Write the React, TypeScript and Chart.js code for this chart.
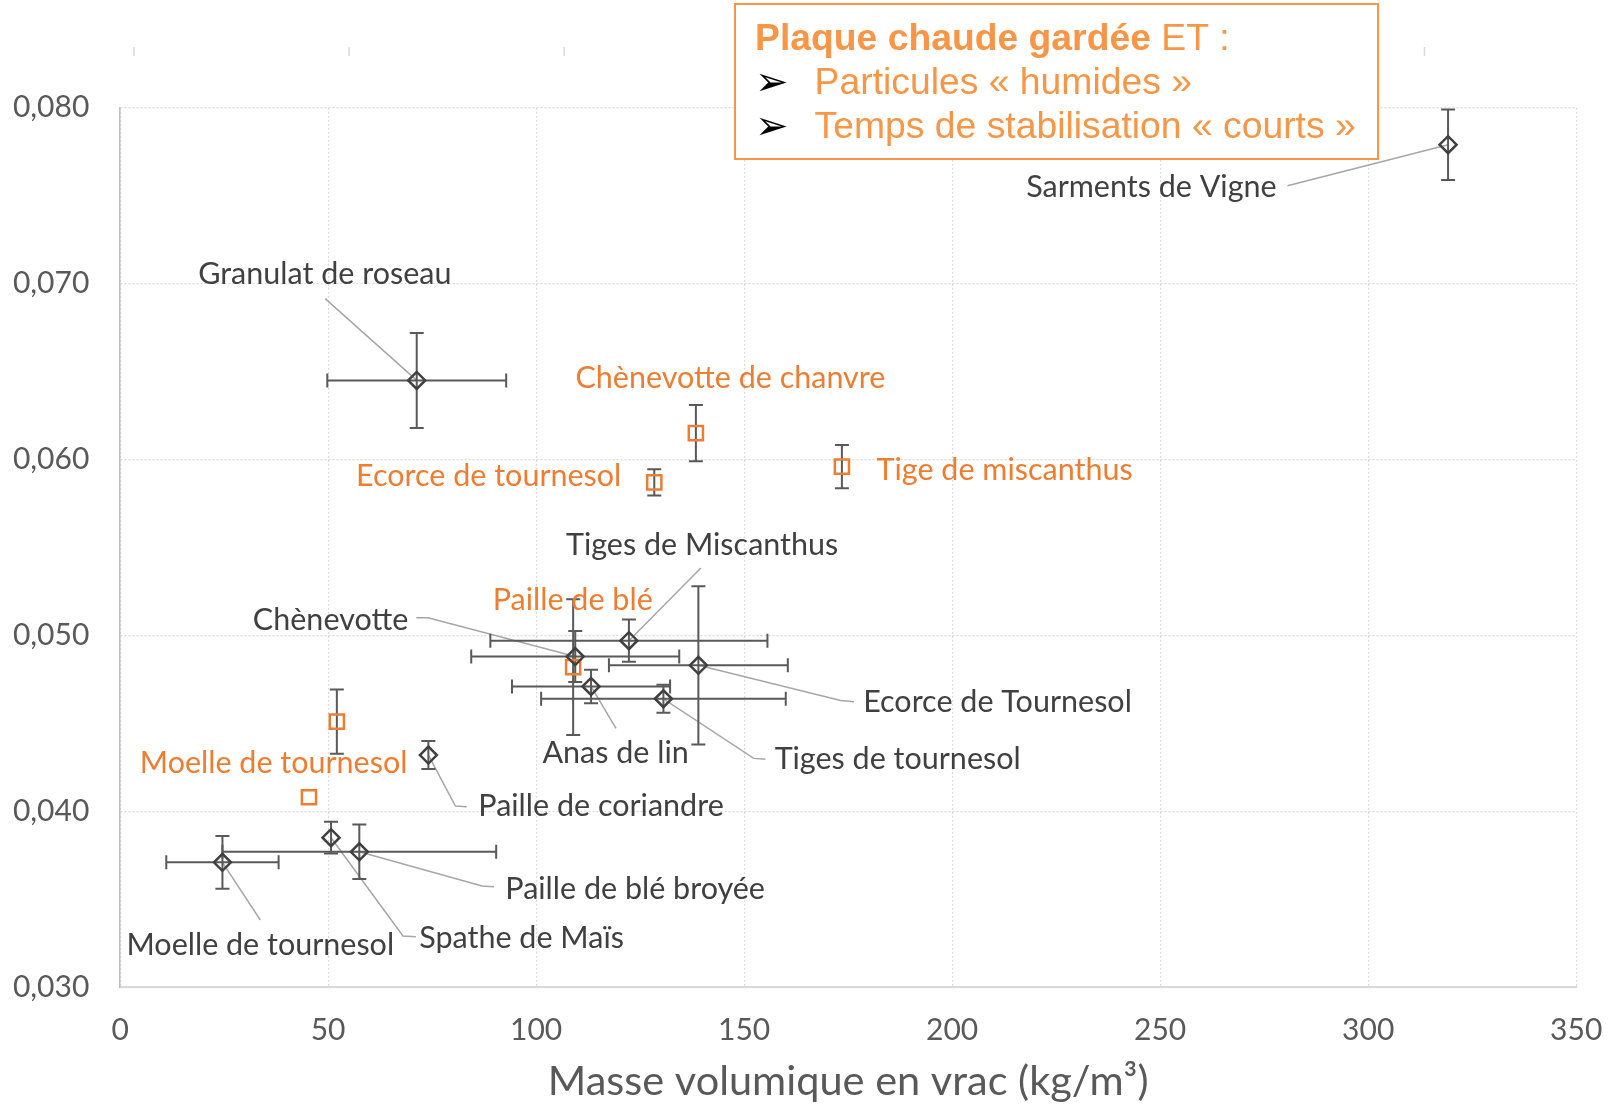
import React, { useEffect, useRef } from 'react';
import { Chart, registerables } from 'chart.js';

Chart.register(...registerables);

// ---------- DATA ----------
// Black diamonds
const blackNames = [
  'Granulat de roseau', 'Sarments de Vigne', 'Tiges de Miscanthus', 'Chènevotte',
  'Ecorce de Tournesol', 'Anas de lin', 'Tiges de tournesol', 'Paille de coriandre',
  'Spathe de Maïs', 'Paille de blé broyée', 'Moelle de tournesol',
];
const blackX = [71.3, 319.2, 122.3, 109.4, 139.0, 113.2, 130.6, 74.1, 50.7, 57.5, 24.6];
const blackY = [0.0645, 0.0779, 0.0497, 0.0488, 0.0483, 0.0471, 0.0464, 0.0432, 0.0385, 0.0377, 0.0371];
const blackXErr = [21.5, 0, 33.3, 25.0, 21.5, 19.0, 29.4, 0, 0, 32.9, 13.5];
const blackYErr = [0.0027, 0.002, 0.0012, 0.00145, 0.0045, 0.00095, 0.0008, 0.0008, 0.0009, 0.00155, 0.0015];

// Orange squares
const orangeNames = [
  'Chènevotte de chanvre', 'Ecorce de tournesol', 'Tige de miscanthus', 'Paille de blé',
  'Moelle de tournesol', '',
];
const orangeX = [138.4, 128.4, 173.5, 108.9, 52.1, 45.4];
const orangeY = [0.0615, 0.0587, 0.0596, 0.0482, 0.0451, 0.0408];
const orangeYErr = [0.0016, 0.00075, 0.00123, 0.00386, 0.00183, 0];

// Axis ticks
const xTicks = [0, 50, 100, 150, 200, 250, 300, 350];
const yTicks = [0.03, 0.04, 0.05, 0.06, 0.07, 0.08];
const topTicks = [0, 1, 2, 3, 4, 5, 6];

const xTitle = 'Masse volumique en vrac (kg/m³)';
const boxTitleBold = 'Plaque chaude gardée';
const boxTitleRest = ' ET :';
const boxBullets = ['Particules « humides »', 'Temps de stabilisation « courts »'];

// Label placements (data units); leader = intermediate points before the marker
const blackLabelPos: { x: number; y: number; leader: number[][] }[] = [
  { x: 49.2, y: 0.07055, leader: [[49.3, 0.06915]] },
  { x: 247.9, y: 0.07546, leader: [[280.6, 0.07557]] },
  { x: 139.9, y: 0.05514, leader: [[139.6, 0.05383]] },
  { x: 50.6, y: 0.05086, leader: [[71.2, 0.0510], [74.0, 0.0510]] },
  { x: 210.9, y: 0.04623, leader: [[176.4, 0.04623], [173.2, 0.0463]] },
  { x: 119.1, y: 0.0433, leader: [[119.2, 0.04472]] },
  { x: 186.9, y: 0.04296, leader: [[155.1, 0.04296], [152.3, 0.04301]] },
  { x: 115.6, y: 0.04032, leader: [[83.3, 0.04026], [80.6, 0.0403]] },
  { x: 96.5, y: 0.03277, leader: [[71.1, 0.03287], [68.0, 0.03291]] },
  { x: 123.8, y: 0.03555, leader: [[89.9, 0.03571], [87.0, 0.03575]] },
  { x: 33.7, y: 0.0324, leader: [[33.7, 0.03382]] },
];
const orangeLabelPos: { x: number; y: number }[] = [
  { x: 146.7, y: 0.06461 },
  { x: 88.6, y: 0.05903 },
  { x: 212.6, y: 0.0594 },
  { x: 108.8, y: 0.052 },
  { x: 36.9, y: 0.04276 },
  { x: 0, y: 0 },
];

// ---------- STYLE ----------
const DARK = '#404040';
const ORANGE = '#ED7D31';
const BOX_ORANGE = '#F79646';
const AXIS_TEXT = '#595959';
const GRID = '#D9D9D9';
const LABEL_FONT = '30.5px Lato';

const errorBarPlugin = {
  id: 'errorBars',
  beforeDatasetsDraw(chart: any) {
    const { ctx, scales } = chart;
    const xs = scales.x, ys = scales.y;
    ctx.save();
    // leader lines
    ctx.strokeStyle = '#A6A6A6';
    ctx.lineWidth = 1.5;
    blackLabelPos.forEach((lp, i) => {
      ctx.beginPath();
      lp.leader.forEach((p, j) => {
        const px = xs.getPixelForValue(p[0]);
        const py = ys.getPixelForValue(p[1]);
        if (j === 0) ctx.moveTo(px, py); else ctx.lineTo(px, py);
      });
      ctx.lineTo(xs.getPixelForValue(blackX[i]), ys.getPixelForValue(blackY[i]));
      ctx.stroke();
    });
    // error bars
    ctx.strokeStyle = '#595959';
    ctx.lineWidth = 2;
    const cap = 7;
    chart.data.datasets.forEach((ds: any) => {
      ds.data.forEach((d: any) => {
        const cx = xs.getPixelForValue(d.x);
        const cy = ys.getPixelForValue(d.y);
        if (d.yErr) {
          const y1 = ys.getPixelForValue(d.y + d.yErr);
          const y2 = ys.getPixelForValue(d.y - d.yErr);
          ctx.beginPath();
          ctx.moveTo(cx, y1); ctx.lineTo(cx, y2);
          ctx.moveTo(cx - cap, y1); ctx.lineTo(cx + cap, y1);
          ctx.moveTo(cx - cap, y2); ctx.lineTo(cx + cap, y2);
          ctx.stroke();
        }
        if (d.xErr) {
          const x1 = xs.getPixelForValue(d.x - d.xErr);
          const x2 = xs.getPixelForValue(d.x + d.xErr);
          ctx.beginPath();
          ctx.moveTo(x1, cy); ctx.lineTo(x2, cy);
          ctx.moveTo(x1, cy - cap); ctx.lineTo(x1, cy + cap);
          ctx.moveTo(x2, cy - cap); ctx.lineTo(x2, cy + cap);
          ctx.stroke();
        }
      });
    });
    ctx.restore();
  },
  afterDatasetsDraw(chart: any) {
    const { ctx, scales } = chart;
    const xs = scales.x, ys = scales.y;
    ctx.save();
    ctx.font = LABEL_FONT;
    ctx.textAlign = 'center';
    ctx.textBaseline = 'middle';
    ctx.fillStyle = DARK;
    blackNames.forEach((n, i) => {
      const lp = blackLabelPos[i];
      ctx.fillText(n, xs.getPixelForValue(lp.x), ys.getPixelForValue(lp.y));
    });
    ctx.fillStyle = ORANGE;
    orangeNames.forEach((n, i) => {
      if (!n) return;
      const lp = orangeLabelPos[i];
      ctx.fillText(n, xs.getPixelForValue(lp.x), ys.getPixelForValue(lp.y));
    });
    ctx.restore();
  },
  afterDraw(chart: any) {
    const { ctx, scales } = chart;
    ctx.save();
    // faint top tick marks (secondary axis remnants)
    const x2 = scales.x2;
    ctx.strokeStyle = GRID;
    ctx.lineWidth = 1.5;
    topTicks.forEach((t) => {
      const px = x2.getPixelForValue(t);
      ctx.beginPath();
      ctx.moveTo(px, 47); ctx.lineTo(px, 56);
      ctx.stroke();
    });
    // annotation box
    ctx.fillStyle = '#ffffff';
    ctx.fillRect(735, 4, 643, 155);
    ctx.strokeStyle = BOX_ORANGE;
    ctx.lineWidth = 2;
    ctx.strokeRect(735, 4, 643, 155);
    ctx.fillStyle = BOX_ORANGE;
    ctx.textBaseline = 'alphabetic';
    ctx.textAlign = 'left';
    ctx.font = 'bold 37.3px "Liberation Sans"';
    ctx.fillText(boxTitleBold, 755, 50);
    const w = ctx.measureText(boxTitleBold).width;
    ctx.font = '37.3px "Liberation Sans"';
    ctx.fillText(boxTitleRest, 755 + w, 50);
    boxBullets.forEach((b, i) => {
      const by = 94.3 + i * 44;
      ctx.fillStyle = '#000000';
      ctx.font = '40px "DejaVu Sans"';
      ctx.fillText('➢', 755, by + 1);
      ctx.fillStyle = BOX_ORANGE;
      ctx.font = '37.3px "Liberation Sans"';
      ctx.fillText(b, 814.6, by);
    });
    ctx.restore();
  },
};

export default function App() {
  const ref = useRef<HTMLCanvasElement | null>(null);
  useEffect(() => {
    if (!ref.current) return;
    const blackData = blackX.map((x, i) => ({ x, y: blackY[i], xErr: blackXErr[i], yErr: blackYErr[i] }));
    const orangeData = orangeX.map((x, i) => ({ x, y: orangeY[i], xErr: 0, yErr: orangeYErr[i] }));
    const chart = new Chart(ref.current, {
      type: 'scatter',
      data: {
        datasets: [
          {
            label: 'black',
            data: blackData,
            pointStyle: 'rectRot',
            pointRadius: 8.5,
            pointBorderWidth: 2.5,
            borderColor: DARK,
            backgroundColor: 'rgba(0,0,0,0)',
          },
          {
            label: 'orange',
            data: orangeData,
            pointStyle: 'rect',
            pointRadius: 10,
            pointBorderWidth: 2.5,
            borderColor: ORANGE,
            backgroundColor: 'rgba(0,0,0,0)',
          },
        ],
      },
      options: {
        animation: false,
        responsive: false,
        layout: { padding: { top: 107.8, right: 32.8, bottom: 0, left: 0 } },
        plugins: { legend: { display: false }, tooltip: { enabled: false } },
        scales: {
          x: {
            type: 'linear',
            min: 0,
            max: 350,
            afterBuildTicks: (s: any) => { s.ticks = xTicks.map((v) => ({ value: v })); },
            ticks: { color: AXIS_TEXT, font: { family: 'Lato', size: 30 }, padding: 25 },
            grid: { color: GRID, lineWidth: 1.2, drawTicks: false },
            border: { display: true, color: GRID, width: 2, dash: [2, 2] },
            title: {
              display: true,
              text: xTitle,
              color: AXIS_TEXT,
              font: { family: 'Lato', size: 41.5 },
              padding: { top: 0, bottom: 0 },
            },
            afterFit: (s: any) => {
              s.height = 119.8;
              s.paddingLeft = 0;
              s.paddingRight = 0;
            },
          },
          y: {
            type: 'linear',
            min: 0.03,
            max: 0.08,
            afterBuildTicks: (s: any) => { s.ticks = yTicks.map((v) => ({ value: v })); },
            ticks: {
              color: AXIS_TEXT,
              font: { family: 'Lato', size: 30 },
              padding: 30.8,
              callback: (v: any) => Number(v).toFixed(3).replace('.', ','),
            },
            grid: { color: GRID, lineWidth: 1.2, drawTicks: false },
            border: { display: true, color: '#BFBFBF', width: 1.5, dash: [2, 2] },
            afterFit: (s: any) => {
              s.width = 120.1;
              s.paddingTop = 0;
              s.paddingBottom = 0;
            },
          },
          x2: {
            type: 'linear',
            position: 'top',
            display: false,
            min: -0.0646,
            max: 6.7054,
          },
        },
      },
      plugins: [errorBarPlugin],
    } as any);
    return () => chart.destroy();
  }, []);
  return (
    <div style={{ position: 'absolute', left: 0, top: 0, width: 1609, height: 1107 }}>
      <canvas ref={ref} width={1609} height={1107} style={{ display: 'block' }} />
    </div>
  );
}
